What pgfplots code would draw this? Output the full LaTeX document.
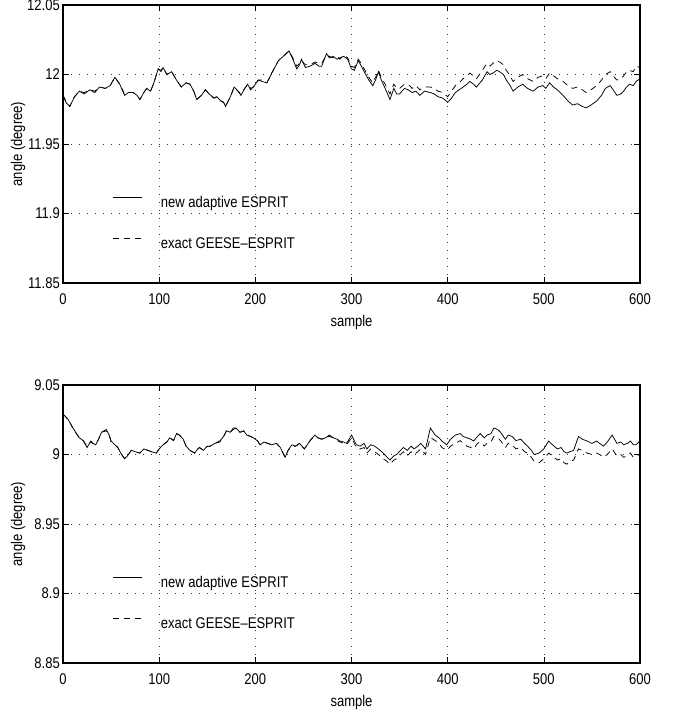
\documentclass[border=0pt]{standalone}
\usepackage{fontspec}
\setmainfont{Liberation Sans}[FakeStretch=0.84]
\usepackage{pgfplots}
\pgfplotsset{compat=1.18}

\pgfplotstableread{
s v
0 11.985
3 11.980
7 11.977
12 11.984
17 11.988
22 11.986
28 11.989
33 11.987
38 11.991
44 11.990
49 11.992
54 11.998
59 11.993
64 11.985
68 11.987
73 11.987
77 11.985
80 11.982
84 11.987
87 11.990
91 11.988
94 11.993
99 12.004
102 12.002
104 12.005
108 12.000
113 12.002
118 11.996
123 11.991
128 11.994
132 11.993
136 11.988
139 11.982
144 11.985
148 11.989
152 11.986
157 11.983
160 11.984
164 11.981
167 11.980
169 11.977
174 11.984
178 11.991
182 11.988
185 11.985
189 11.990
192 11.993
195 11.989
198 11.991
203 11.996
207 11.995
212 11.994
215 11.998
217 12.001
221 12.006
224 12.010
229 12.013
235 12.017
239 12.011
243 12.004
246 12.007
248 12.011
252 12.005
257 12.006
262 12.008
266 12.006
269 12.006
274 12.015
277 12.012
281 12.013
285 12.011
288 12.012
292 12.013
296 12.011
300 12.004
303 12.003
307 12.010
311 12.005
314 12.001
318 11.996
322 11.992
325 11.996
328 12.002
331 11.996
335 11.990
340 11.982
344 11.990
347 11.986
350 11.986
355 11.990
359 11.989
363 11.987
367 11.988
371 11.985
376 11.988
382 11.987
386 11.986
390 11.984
395 11.983
400 11.980
404 11.983
408 11.987
412 11.989
416 11.991
420 11.993
423 11.995
427 11.993
430 11.991
436 11.996
441 12.002
444 12.000
447 12.001
451 12.003
454 12.002
458 12.000
461 11.996
465 11.992
468 11.988
473 11.991
478 11.993
483 11.990
489 11.988
494 11.991
499 11.992
502 11.990
506 11.994
510 11.991
514 11.989
517 11.987
520 11.985
525 11.981
530 11.978
535 11.979
540 11.977
544 11.976
549 11.978
555 11.981
560 11.985
564 11.990
569 11.992
572 11.989
576 11.985
580 11.986
583 11.988
586 11.991
589 11.993
593 11.992
596 11.995
600 11.997
}\topnew

\pgfplotstableread{
s v
0 11.985
3 11.981
7 11.977
12 11.984
17 11.988
22 11.987
28 11.989
33 11.988
38 11.991
44 11.990
49 11.992
54 11.998
59 11.993
64 11.986
68 11.987
73 11.987
77 11.985
80 11.982
84 11.987
87 11.990
91 11.988
94 11.993
99 12.004
102 12.003
104 12.005
108 12.000
113 12.002
118 11.996
123 11.991
128 11.994
132 11.993
136 11.988
139 11.982
144 11.985
148 11.989
152 11.986
157 11.983
160 11.984
164 11.981
167 11.980
169 11.977
174 11.984
178 11.991
182 11.988
185 11.986
189 11.990
192 11.993
195 11.990
198 11.991
203 11.996
207 11.996
212 11.994
215 11.998
217 12.001
221 12.006
224 12.010
229 12.013
235 12.017
239 12.012
243 12.006
246 12.008
248 12.010
252 12.007
257 12.007
262 12.009
266 12.008
269 12.008
274 12.014
277 12.013
281 12.012
285 12.013
288 12.011
292 12.014
296 12.012
300 12.006
303 12.005
307 12.011
311 12.007
314 12.003
318 11.998
322 11.994
325 11.998
328 12.003
331 11.998
335 11.993
340 11.986
344 11.993
347 11.990
350 11.990
355 11.993
359 11.993
363 11.990
367 11.992
371 11.989
376 11.991
382 11.991
386 11.990
390 11.988
395 11.987
400 11.984
404 11.988
408 11.992
412 11.994
416 11.997
420 11.999
423 12.001
427 11.999
430 11.997
436 12.003
441 12.008
444 12.006
447 12.008
451 12.010
454 12.009
458 12.007
461 12.003
465 11.999
468 11.995
473 11.998
478 12.000
483 11.997
489 11.995
494 11.998
499 11.999
502 11.997
506 12.001
510 11.999
514 11.997
517 11.996
520 11.995
525 11.992
530 11.990
535 11.991
540 11.989
544 11.987
549 11.989
555 11.992
560 11.996
564 12.000
569 12.002
572 11.999
576 11.996
580 11.997
583 11.999
586 12.002
589 12.003
593 12.002
596 12.006
600 12.005
}\topexact

\pgfplotstableread{
s v
0 9.029
3 9.027
5 9.0255
8 9.022
10 9.0195
14 9.015
17 9.012
21 9.010
25 9.005
29 9.0097
31 9.008
34 9.007
37 9.011
40 9.016
45 9.018
48 9.014
50 9.0097
54 9.007
57 9.005
60 9.001
64 8.997
67 8.999
71 9.003
75 9.002
80 9.001
84 9.004
88 9.003
92 9.002
97 9.001
100 9.004
104 9.007
108 9.009
111 9.012
115 9.010
118 9.015
121 9.014
125 9.011
128 9.006
132 9.003
137 9.001
140 9.004
142 9.005
146 9.003
150 9.006
153 9.006
158 9.008
163 9.0097
167 9.013
170 9.017
174 9.016
177 9.019
180 9.019
184 9.016
188 9.017
191 9.014
195 9.013
198 9.012
202 9.010
205 9.007
209 9.009
213 9.008
217 9.007
222 9.008
226 9.005
231 8.998
234 9.003
238 9.007
242 9.006
246 9.008
251 9.004
255 9.008
258 9.011
262 9.014
265 9.012
269 9.011
273 9.012
277 9.014
281 9.012
285 9.011
288 9.0097
292 9.009
295 9.008
300 9.014
305 9.007
309 9.006
313 9.008
316 9.004
320 9.007
324 9.006
328 9.004
333 9.001
337 8.998
340 8.996
344 8.999
347 9.000
351 9.003
354 9.005
358 9.003
362 9.006
365 9.004
369 9.006
372 9.008
377 9.004
382 9.019
385 9.016
387 9.014
391 9.012
394 9.0097
399 9.007
403 9.011
408 9.014
413 9.015
416 9.013
420 9.012
424 9.011
427 9.0097
431 9.013
434 9.015
438 9.012
441 9.014
445 9.015
448 9.019
452 9.018
455 9.016
460 9.011
463 9.014
467 9.013
471 9.010
476 9.011
480 9.008
483 9.006
487 9.003
490 9.000
495 9.001
500 9.004
505 9.0097
509 9.007
514 9.004
518 9.005
521 9.002
524 9.001
527 9.002
531 9.003
536 9.013
540 9.011
545 9.0097
550 9.008
555 9.0097
558 9.008
562 9.006
566 9.009
571 9.014
576 9.008
580 9.009
583 9.007
587 9.008
590 9.0097
593 9.007
596 9.007
600 9.0097
}\botnew

\pgfplotstableread{
s v
0 9.029
3 9.027
5 9.025
8 9.022
10 9.019
14 9.015
17 9.012
21 9.010
25 9.006
29 9.009
31 9.008
34 9.007
37 9.011
40 9.016
45 9.017
48 9.014
50 9.009
54 9.007
57 9.005
60 9.001
64 8.997
67 8.999
71 9.003
75 9.002
80 9.001
84 9.004
88 9.003
92 9.002
97 9.001
100 9.004
104 9.007
108 9.009
111 9.012
115 9.010
118 9.015
121 9.014
125 9.011
128 9.006
132 9.003
137 9.001
140 9.004
142 9.005
146 9.003
150 9.006
153 9.006
158 9.008
163 9.009
167 9.013
170 9.017
174 9.016
177 9.018
180 9.019
184 9.016
188 9.017
191 9.014
195 9.013
198 9.012
202 9.010
205 9.007
209 9.009
213 9.008
217 9.007
222 9.008
226 9.005
231 8.998
234 9.003
238 9.006
242 9.006
246 9.008
251 9.004
255 9.008
258 9.011
262 9.013
265 9.012
269 9.011
273 9.012
277 9.013
281 9.012
285 9.010
288 9.009
292 9.008
295 9.007
300 9.012
305 9.005
309 9.004
313 9.005
316 9.001
320 9.004
324 9.002
328 9.000
333 8.997
337 8.995
340 8.993
344 8.996
347 8.997
351 9.000
354 9.002
358 8.999
362 9.002
365 9.000
369 9.002
372 9.004
377 9.000
382 9.012
385 9.011
387 9.010
391 9.008
394 9.005
399 9.003
403 9.006
408 9.008
413 9.010
416 9.008
420 9.006
424 9.005
427 9.004
431 9.008
434 9.009
438 9.006
441 9.008
445 9.009
448 9.013
452 9.012
455 9.010
460 9.005
463 9.008
467 9.007
471 9.004
476 9.005
480 9.002
483 9.001
487 8.998
490 8.995
495 8.994
500 8.997
505 9.001
509 8.999
514 8.996
518 8.997
521 8.994
524 8.993
527 8.995
531 8.996
536 9.004
540 9.003
545 9.001
550 9.000
555 9.001
558 9.000
562 8.998
566 9.000
571 9.004
576 8.999
580 9.000
583 8.998
587 8.999
590 9.001
593 8.998
596 8.999
600 9.000
}\botexact

\pgfplotsset{
  espritaxis/.style={
    scale only axis,
    width=577bp, height=278bp,
    xmin=0, xmax=600,
    xtick={0,100,200,300,400,500,600},
    tick align=inside,
    major tick length=6bp,
    tick style={black, line width=0.6bp},
    axis line style={black, line width=1.2bp},
    grid=major,
    major grid style={black!80, line width=0.6bp, dash pattern=on 0.8bp off 7.2bp},
    font=\fontsize{15.5bp}{18bp}\selectfont,
    /pgf/number format/assume math mode=true,
    xlabel={sample},
    ylabel={angle (degree)},
    every axis x label/.style={at={(axis description cs:0.5,0)}, yshift=-39bp, anchor=center},
    every axis y label/.style={at={(axis description cs:0,0.5)}, xshift=-45bp, rotate=90, anchor=center},
    yticklabel style={inner sep=0pt, xshift=-3bp},
    xticklabel style={inner sep=0pt, yshift=-10bp},
    legend cell align=left,
    legend style={draw=none, fill=none, inner sep=0pt, row sep=28bp, column sep=19bp,
      nodes={inner sep=0pt}, at={(axis description cs:0.085,0.312)}, anchor=north west},
    legend image code/.code={\draw[#1] (0bp,5bp) -- (29bp,5bp);},
  },
  newline/.style={black, line width=0.75bp},
  exactline/.style={black, line width=0.75bp, dash pattern=on 6bp off 5bp},
}

\begin{document}
\begin{tikzpicture}
\useasboundingbox (0,0) rectangle (674bp,717bp);
\begin{axis}[espritaxis, at={(63bp,434bp)}, anchor=south west,
  ymin=11.85, ymax=12.05, ytick={11.85,11.9,11.95,12,12.05}]
\addplot[newline] table[x=s, y=v] {\topnew};
\addlegendentry{new adaptive ESPRIT}
\addplot[exactline] table[x=s, y=v] {\topexact};
\addlegendentry{exact GEESE--ESPRIT}
\end{axis}
\begin{axis}[espritaxis, at={(63bp,54bp)}, anchor=south west,
  ymin=8.85, ymax=9.05, ytick={8.85,8.9,8.95,9,9.05}]
\addplot[newline] table[x=s, y=v] {\botnew};
\addlegendentry{new adaptive ESPRIT}
\addplot[exactline] table[x=s, y=v] {\botexact};
\addlegendentry{exact GEESE--ESPRIT}
\end{axis}
\end{tikzpicture}
\end{document}
